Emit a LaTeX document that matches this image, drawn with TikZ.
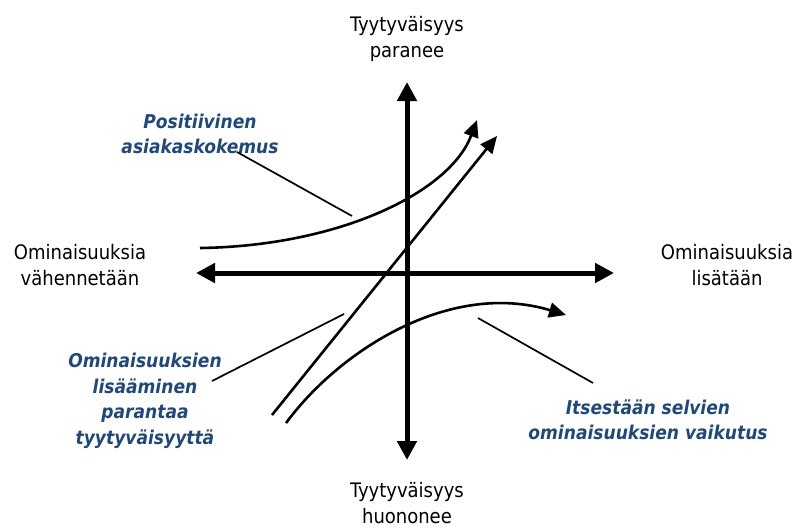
\documentclass[tikz,border=0pt]{standalone}
\usepackage{fontspec}
\setmainfont{DejaVu Sans Condensed}
\usetikzlibrary{arrows.meta}
\definecolor{noteblue}{RGB}{31,73,125}
\tikzset{
  axislabel/.style={align=center, inner sep=0pt, font=\fontsize{20}{26.5}\selectfont},
  note/.style={align=center, inner sep=0pt, text=noteblue,
    font=\fontsize{19}{25.5}\selectfont\bfseries\itshape},
  axisline/.style={line width=5pt, -{Triangle[length=19pt,width=19pt]}},
  trend/.style={line width=2.6pt, -{Triangle[length=17pt,width=15pt]}},
  pointer/.style={line width=1.7pt}
}
\begin{document}
\begin{tikzpicture}[x=1pt, y=-1pt]
  \useasboundingbox (0,0) rectangle (798,530);

  % axis labels
  \node[axislabel] (up)    at (407,39)  {Tyytyväisyys\\paranee};
  \node[axislabel] (down)  at (407,503) {Tyytyväisyys\\huononee};
  \node[axislabel] (less)  at (80,265)  {Ominaisuuksia\\vähennetään};
  \node[axislabel] (more)  at (727,265) {Ominaisuuksia\\lisätään};

  % axes
  \coordinate (center) at (407,273);
  \coordinate (ytop) at (407,82);
  \coordinate (ybot) at (407,460);
  \coordinate (xleft) at (196,273);
  \coordinate (xright) at (614,273);
  \draw[axisline] (center) -- (ytop);
  \draw[axisline] (center) -- (ybot);
  \draw[axisline] (center) -- (xleft);
  \draw[axisline] (center) -- (xright);

  % trend curves
  \coordinate (p0) at (200,248);
  \coordinate (p1) at (477,120);
  \draw[trend] (p0) .. controls (340,246) and (450,192) .. (p1);

  \coordinate (s0) at (272,415);
  \coordinate (s1) at (497,136);
  \draw[trend] (s0) -- (s1);

  \coordinate (b0) at (286,423);
  \coordinate (b1) at (566,315);
  \draw[trend] (b0) .. controls (340,350) and (450,280) .. (b1);

  % notes
  \node[note] (pos) at (200,134) {Positiivinen\\asiakaskokemus};
  \node[note] (add) at (145,401) {Ominaisuuksien\\lisääminen\\parantaa\\tyytyväisyyttä};
  \node[note] (obv) at (648,420) {Itsestään selvien\\ominaisuuksien vaikutus};

  % note pointers
  \coordinate (posA) at (237,152);
  \coordinate (posB) at (352,216);
  \coordinate (addA) at (212,381);
  \coordinate (addB) at (344,314);
  \coordinate (obvA) at (593,383);
  \coordinate (obvB) at (478,318);
  \draw[pointer] (posA) -- (posB);
  \draw[pointer] (addA) -- (addB);
  \draw[pointer] (obvA) -- (obvB);
\end{tikzpicture}
\end{document}
